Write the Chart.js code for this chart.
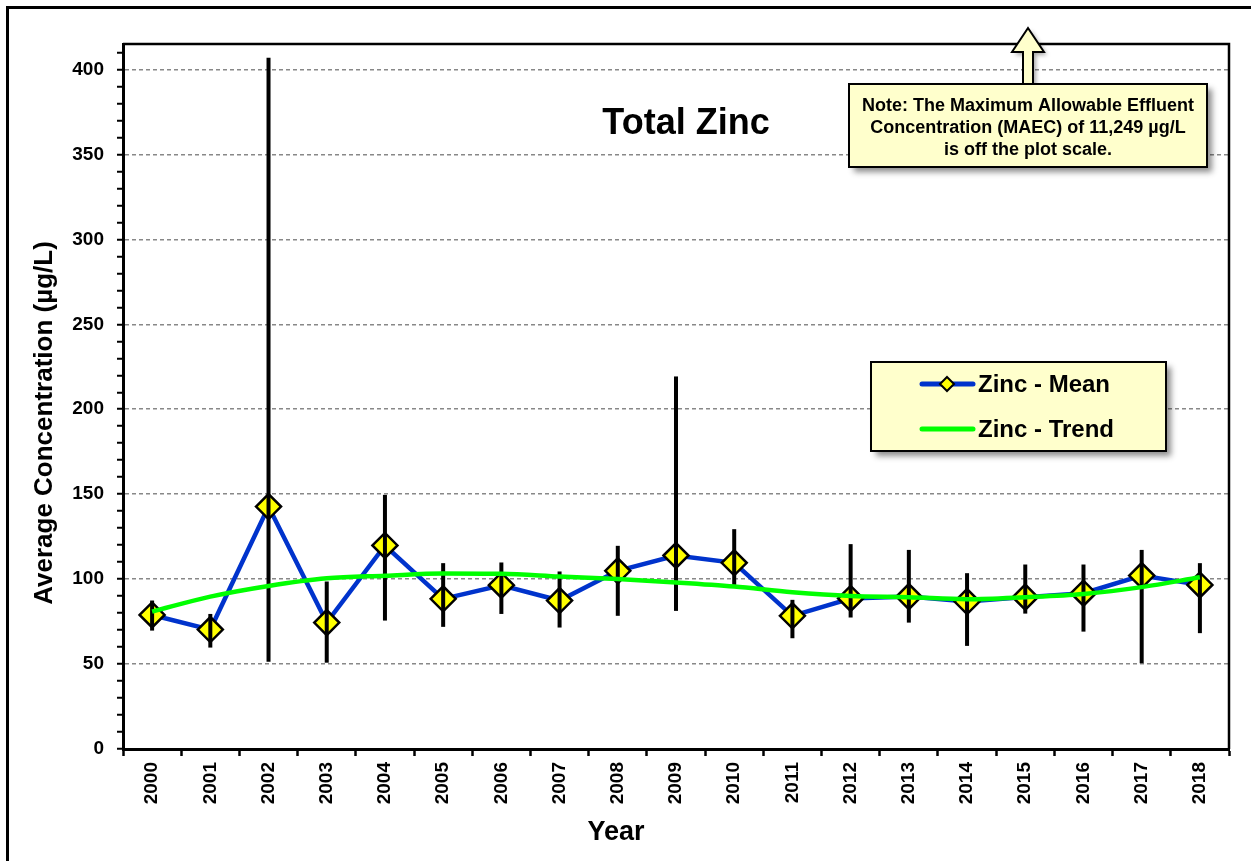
<!DOCTYPE html>
<html>
<head>
<meta charset="utf-8">
<script src="https://cdn.jsdelivr.net/npm/chart.js@4.4.1/dist/chart.umd.min.js"></script>
<style>
  html, body { margin:0; padding:0; background:#fff; }
  #wrap { position:relative; width:1251px; height:861px; }
</style>
</head>
<body>
<div id="wrap"><canvas id="ch-zinc" width="1251" height="861"></canvas></div>
<script>
const years = ['2000','2001','2002','2003','2004','2005','2006','2007','2008','2009','2010','2011','2012','2013','2014','2015','2016','2017','2018'];
const zincMean = [78.9, 70.3, 142.7, 74.4, 119.8, 88.4, 96.4, 87.4, 104.9, 113.9, 109.6, 78.4, 88.6, 89.7, 86.8, 89.4, 91.7, 102.1, 96.6];
const zincHigh = [87.4, 79.5, 406.9, 98.6, 149.6, 109.4, 109.8, 104.5, 119.6, 219.3, 129.4, 87.8, 120.6, 117.2, 103.5, 108.6, 108.6, 117.2, 109.4];
const zincLow  = [69.7, 59.7, 51.4, 50.8, 75.6, 71.9, 79.5, 71.5, 78.4, 81.3, 96.6, 65.2, 77.4, 74.4, 60.7, 79.7, 69.1, 50.5, 68.2];
const zincTrend = [80.9, 89.7, 96.0, 100.5, 102.0, 103.3, 103.1, 101.5, 100.0, 98.0, 95.6, 92.3, 90.1, 89.4, 88.2, 89.4, 91.3, 95.3, 101.1];
const noteLines = ['Note: The Maximum Allowable Effluent', 'Concentration (MAEC) of 11,249 µg/L', 'is off the plot scale.'];

const FONT = 'Arial, "Liberation Sans", sans-serif';

// error bars drawn right after the mean series, before the trend
const errorBars = {
  id: 'errorBars',
  afterDatasetDraw(chart, args) {
    if (args.index !== 0) return;
    const {ctx, scales:{x, y}} = chart;
    ctx.save();
    ctx.strokeStyle = '#000'; ctx.lineWidth = 4; ctx.lineCap = 'butt';
    years.forEach((yr, i) => {
      const px = x.getPixelForValue(i);
      ctx.beginPath();
      ctx.moveTo(px, y.getPixelForValue(zincHigh[i]));
      ctx.lineTo(px, y.getPixelForValue(zincLow[i]));
      ctx.stroke();
    });
    ctx.restore();
  }
};

function shadowBox(ctx, x, y, w, h) {
  ctx.save();
  ctx.shadowColor = 'rgba(0,0,0,0.45)';
  ctx.shadowBlur = 6; ctx.shadowOffsetX = 5; ctx.shadowOffsetY = 5;
  ctx.fillStyle = '#ffffcc';
  ctx.fillRect(x, y, w, h);
  ctx.restore();
  ctx.save();
  ctx.strokeStyle = '#000'; ctx.lineWidth = 2;
  ctx.strokeRect(x, y, w, h);
  ctx.restore();
}

const decorations = {
  id: 'decorations',
  beforeDraw(chart) {
    const {ctx} = chart;
    ctx.save();
    ctx.fillStyle = '#fff';
    ctx.fillRect(0, 0, chart.width, chart.height);
    // outer frame (only top and left visible)
    ctx.strokeStyle = '#000'; ctx.lineWidth = 3;
    ctx.beginPath();
    ctx.moveTo(7.5, chart.height + 5); ctx.lineTo(7.5, 7.5); ctx.lineTo(chart.width + 5, 7.5);
    ctx.stroke();
    ctx.restore();
  },
  afterDraw(chart) {
    const {ctx, chartArea:a} = chart;
    ctx.save();
    // plot frame top/right
    ctx.strokeStyle = '#000'; ctx.lineWidth = 2.5;
    ctx.beginPath();
    ctx.moveTo(a.left, a.top); ctx.lineTo(a.right, a.top); ctx.lineTo(a.right, a.bottom);
    ctx.stroke();

    // title
    ctx.fillStyle = '#000';
    ctx.font = 'bold 36px ' + FONT;
    ctx.textAlign = 'center'; ctx.textBaseline = 'alphabetic';
    ctx.fillText('Total Zinc', 686, 134);

    // axis titles
    ctx.font = 'bold 27px ' + FONT;
    ctx.fillText('Year', 616, 840);
    ctx.save();
    ctx.translate(52, 423);
    ctx.rotate(-Math.PI / 2);
    ctx.font = 'bold 26px ' + FONT;
    ctx.fillText('Average Concentration (µg/L)', 0, 0);
    ctx.restore();

    // arrow pointing up off-scale
    ctx.save();
    ctx.shadowColor = 'rgba(0,0,0,0.35)'; ctx.shadowBlur = 4; ctx.shadowOffsetX = 3; ctx.shadowOffsetY = 3;
    ctx.fillStyle = '#ffffcc'; ctx.strokeStyle = '#000'; ctx.lineWidth = 2;
    ctx.beginPath();
    ctx.moveTo(1028, 28);
    ctx.lineTo(1044, 52); ctx.lineTo(1033, 52); ctx.lineTo(1033, 86);
    ctx.lineTo(1023, 86); ctx.lineTo(1023, 52); ctx.lineTo(1012, 52);
    ctx.closePath();
    ctx.fill();
    ctx.shadowColor = 'transparent';
    ctx.stroke();
    ctx.restore();

    // note box
    shadowBox(ctx, 849, 84, 358, 83);
    ctx.fillStyle = '#000';
    ctx.font = 'bold 18px ' + FONT;
    ctx.textAlign = 'center';
    noteLines.forEach((t, i) => ctx.fillText(t, 1028, 111 + i * 22));

    // legend box
    shadowBox(ctx, 871, 362, 295, 89);
    ctx.lineCap = 'round';
    ctx.strokeStyle = '#0033cc'; ctx.lineWidth = 5;
    ctx.beginPath(); ctx.moveTo(922, 384); ctx.lineTo(973, 384); ctx.stroke();
    ctx.fillStyle = '#ffff00'; ctx.strokeStyle = '#000'; ctx.lineWidth = 2;
    ctx.beginPath();
    ctx.moveTo(947, 377); ctx.lineTo(954, 384); ctx.lineTo(947, 391); ctx.lineTo(940, 384); ctx.closePath();
    ctx.fill(); ctx.stroke();
    ctx.strokeStyle = '#00ff00'; ctx.lineWidth = 5;
    ctx.beginPath(); ctx.moveTo(922, 429); ctx.lineTo(973, 429); ctx.stroke();
    ctx.fillStyle = '#000';
    ctx.font = 'bold 24px ' + FONT;
    ctx.textAlign = 'left'; ctx.textBaseline = 'middle';
    ctx.fillText('Zinc - Mean', 978, 385);
    ctx.fillText('Zinc - Trend', 978, 430);
    ctx.restore();
  }
};

new Chart(document.getElementById('ch-zinc'), {
  type: 'line',
  data: {
    labels: years,
    datasets: [
      { label: 'Zinc - Mean', data: zincMean, order: 2,
        borderColor: '#0033cc', borderWidth: 4.5, tension: 0,
        pointStyle: 'rectRot', pointRadius: 12.5, pointBackgroundColor: '#ffff00',
        pointBorderColor: '#000', pointBorderWidth: 2.5 },
      { label: 'Zinc - Trend', data: zincTrend, order: 1,
        borderColor: '#00ff00', borderWidth: 4.5, cubicInterpolationMode: 'monotone',
        pointRadius: 0 }
    ]
  },
  options: {
    responsive: false, animation: false, devicePixelRatio: 1,
    layout: { padding: { left: 10, top: 44, right: 22, bottom: 10 } },
    plugins: { legend: { display: false }, tooltip: { enabled: false }, title: { display: false } },
    scales: {
      x: {
        offset: true,
        grid: { offset: true, drawOnChartArea: false, tickLength: 7, tickColor: '#000', tickWidth: 2.5 },
        border: { color: '#000', width: 3 },
        ticks: { color: '#000', font: { family: FONT, size: 19, weight: 'bold' }, maxRotation: 90, minRotation: 90, padding: 6, autoSkip: false },
        afterFit(s) { s.height = 102; }
      },
      y: {
        min: 0, max: 415,
        grid: {
          color: c => (c.tick && c.tick.value > 0 && c.tick.value % 50 === 0) ? '#888' : 'rgba(0,0,0,0)',
          lineWidth: 1.5, tickLength: 6, tickColor: '#000', tickWidth: 2, tickBorderDash: []
        },
        border: { color: '#000', width: 3, dash: [4, 3] },
        ticks: {
          stepSize: 10, includeBounds: false, autoSkip: false, maxTicksLimit: 100,
          color: '#000', padding: 13,
          font: { family: FONT, size: 19, weight: 'bold' },
          callback: v => v % 50 === 0 ? v : ''
        },
        afterFit(s) { s.width = 113; }
      }
    }
  },
  plugins: [errorBars, decorations]
});
</script>
</body>
</html>
